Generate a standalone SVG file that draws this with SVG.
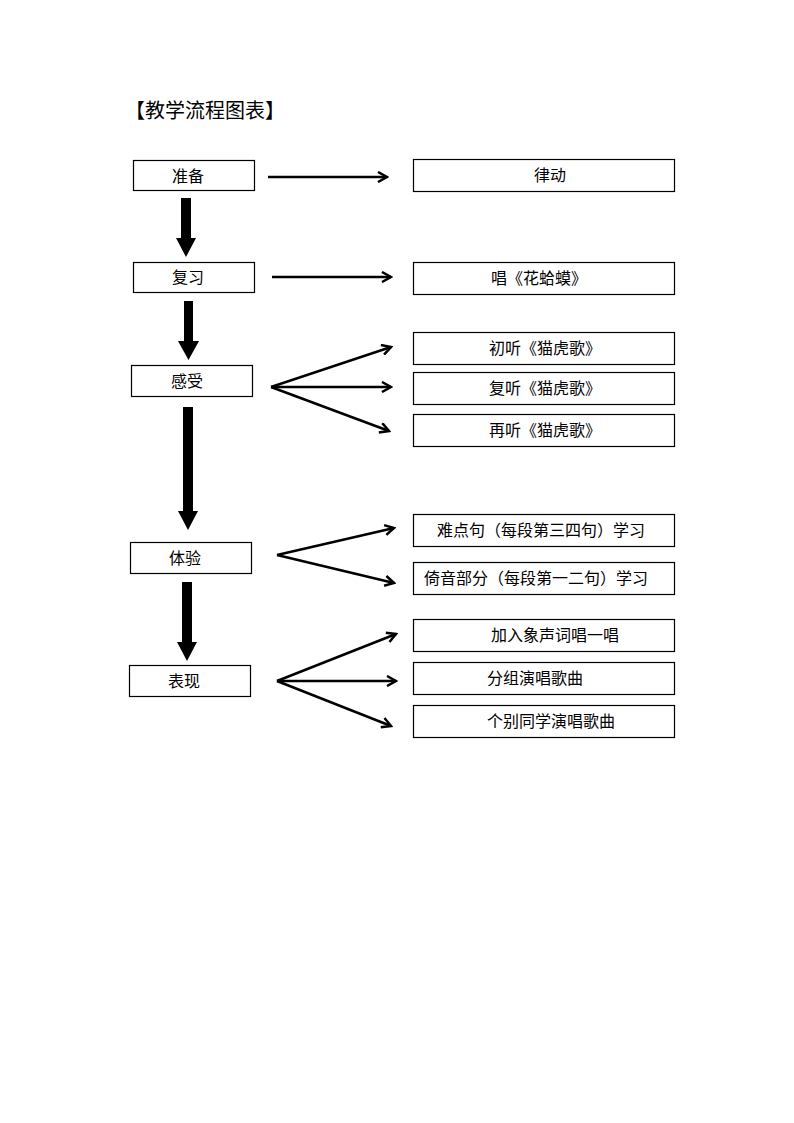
<svg xmlns="http://www.w3.org/2000/svg" width="794" height="1123" viewBox="0 0 794 1123">
<style>
.box{fill:#fff;stroke:#000;stroke-width:1.2}
.t{font-family:"Liberation Sans","Noto Sans CJK SC",sans-serif;font-size:16px;fill:#000}
.ttl{font-family:"Liberation Serif","Noto Sans CJK SC",serif;font-size:20px;fill:#000}
.ln{stroke:#000;stroke-width:2.5;fill:none;marker-end:url(#open)}
.thick{fill:#000}
</style>
<defs>
<marker id="open" markerWidth="12" markerHeight="12" refX="10" refY="6" orient="auto" markerUnits="userSpaceOnUse">
<polyline points="1,1 10,6 1,11" fill="none" stroke="#000" stroke-width="2.5"/>
</marker>
</defs>
<rect width="794" height="1123" fill="#fff"/>
<text class="ttl" x="125" y="118">【教学流程图表】</text>

<g id="n-zhunbei"><rect class="box" x="133.5" y="160.5" width="121" height="30"/><text class="t" x="172" y="182">准备</text></g>
<g id="n-fuxi"><rect class="box" x="133.5" y="262.5" width="121" height="30"/><text class="t" x="172" y="283">复习</text></g>
<g id="n-ganshou"><rect class="box" x="131.5" y="365.5" width="121" height="31"/><text class="t" x="171" y="387">感受</text></g>
<g id="n-tiyan"><rect class="box" x="130.5" y="542.5" width="121" height="31"/><text class="t" x="169" y="564">体验</text></g>
<g id="n-biaoxian"><rect class="box" x="129.5" y="665.5" width="121" height="31"/><text class="t" x="168" y="687">表现</text></g>

<g id="n-lvdong"><rect class="box" x="413.5" y="159.5" width="261" height="32"/><text class="t" x="534" y="181">律动</text></g>
<g id="n-chang"><rect class="box" x="413.5" y="262.5" width="261" height="32"/><text class="t" x="491" y="284">唱《花蛤蟆》</text></g>
<g id="n-chuting"><rect class="box" x="413.5" y="332.5" width="261" height="32"/><text class="t" x="489" y="354">初听《猫虎歌》</text></g>
<g id="n-futing"><rect class="box" x="413.5" y="372.5" width="261" height="32"/><text class="t" x="489" y="394">复听《猫虎歌》</text></g>
<g id="n-zaiting"><rect class="box" x="413.5" y="414.5" width="261" height="32"/><text class="t" x="489" y="436">再听《猫虎歌》</text></g>
<g id="n-nandian"><rect class="box" x="413.5" y="514.5" width="261" height="32"/><text class="t" x="437" y="536">难点句（每段第三四句）学习</text></g>
<g id="n-yiyin"><rect class="box" x="413.5" y="562.5" width="261" height="32"/><text class="t" x="424" y="584">倚音部分（每段第一二句）学习</text></g>
<g id="n-jiaru"><rect class="box" x="413.5" y="619.5" width="261" height="32"/><text class="t" x="491" y="641">加入象声词唱一唱</text></g>
<g id="n-fenzu"><rect class="box" x="413.5" y="662.5" width="261" height="32"/><text class="t" x="487" y="684">分组演唱歌曲</text></g>
<g id="n-gebie"><rect class="box" x="413.5" y="705.5" width="261" height="32"/><text class="t" x="487" y="727">个别同学演唱歌曲</text></g>

<g id="connectors">
<polygon class="thick" points="181,198 191,198 191,238 196,238 186,257 176,238 181,238"/>
<polygon class="thick" points="184,301 193,301 193,341 199,341 188.5,360 178,341 184,341"/>
<polygon class="thick" points="183,407 193,407 193,511 198,511 188,530 178,511 183,511"/>
<polygon class="thick" points="182,582 192,582 192,642 197,642 187,661 177,642 182,642"/>
<line class="ln" x1="268" y1="177" x2="387" y2="177"/>
<line class="ln" x1="272" y1="277" x2="391" y2="277"/>
<line class="ln" x1="271" y1="387" x2="391" y2="347"/>
<line class="ln" x1="271" y1="387" x2="391" y2="387"/>
<line class="ln" x1="271" y1="387" x2="389" y2="431"/>
<line class="ln" x1="277" y1="555" x2="394" y2="528"/>
<line class="ln" x1="277" y1="555" x2="394" y2="583"/>
<line class="ln" x1="277" y1="681" x2="396" y2="634"/>
<line class="ln" x1="277" y1="681" x2="396" y2="681"/>
<line class="ln" x1="277" y1="681" x2="391" y2="726"/>
</g>
</svg>
